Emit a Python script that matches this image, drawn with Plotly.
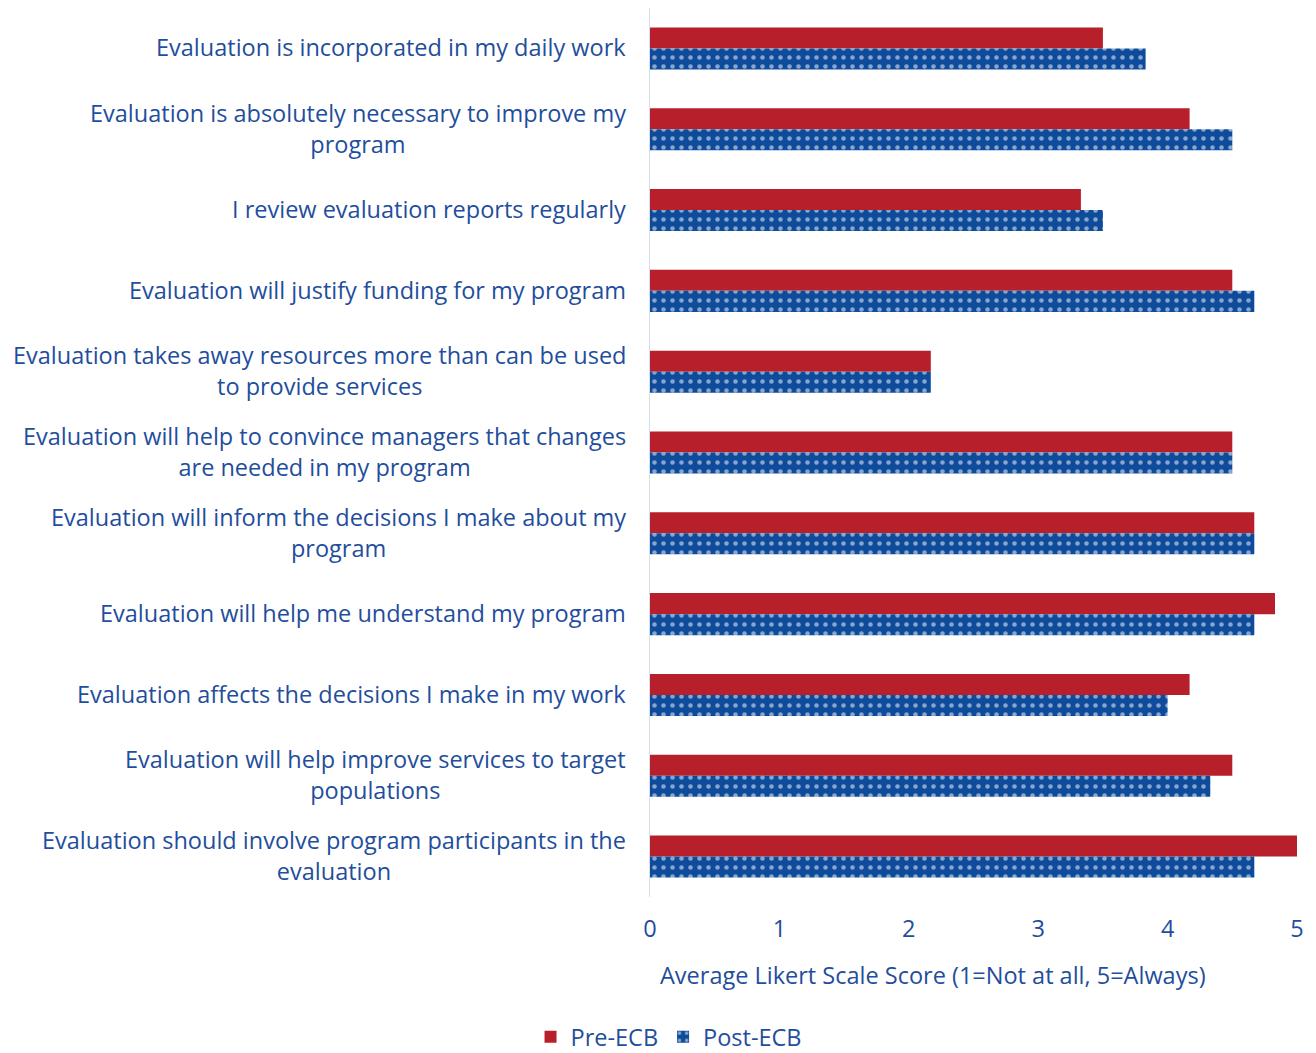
import plotly.graph_objects as go

# Survey statements (top to bottom) with line breaks for wrapping
statements = [
    "Evaluation is incorporated in my daily work",
    "Evaluation is absolutely necessary to improve my<br>program",
    "I review evaluation reports regularly",
    "Evaluation will justify funding for my program",
    "Evaluation takes away resources more than can be used<br>to provide services",
    "Evaluation will help to convince managers that changes<br>are needed in my program",
    "Evaluation will inform the decisions I make about my<br>program",
    "Evaluation will help me understand my program",
    "Evaluation affects the decisions I make in my work",
    "Evaluation will help improve services to target<br>populations",
    "Evaluation should involve program participants in the<br>evaluation",
]

pre_ecb = [3.50, 4.17, 3.33, 4.50, 2.17, 4.50, 4.67, 4.83, 4.17, 4.50, 5.00]
post_ecb = [3.83, 4.50, 3.50, 4.67, 2.17, 4.50, 4.67, 4.67, 4.00, 4.33, 4.67]

x_ticks = [0, 1, 2, 3, 4, 5]

RED = "#B71F2A"
BLUE = "#0F4B9B"
TEXT = "#1F4E9C"
FONT = "Open Sans"
FSIZE = 23.5

fig = go.Figure()
fig.add_trace(go.Bar(
    name="Pre-ECB", y=statements, x=pre_ecb, orientation="h",
    marker=dict(color=RED, line=dict(width=0)),
))
fig.add_trace(go.Bar(
    name="Post-ECB", y=statements, x=post_ecb, orientation="h",
    marker=dict(color=BLUE, line=dict(width=0),
                pattern=dict(shape=".", fgcolor="white", bgcolor=BLUE,
                             size=9, solidity=0.2, fillmode="overlay")),
))

# Category labels drawn as centered multi-line annotations
for s in statements:
    fig.add_annotation(
        x=0, xref="paper", xanchor="right", xshift=-22,
        y=s, yref="y", yanchor="middle", yshift=1,
        text=s, showarrow=False, align="center",
        font=dict(family=FONT, size=FSIZE, color=TEXT),
    )

# Value-axis title
fig.add_annotation(
    x=0.437, xref="paper", xanchor="center",
    y=0, yref="paper", yanchor="top", yshift=-60,
    text="Average Likert Scale Score (1=Not at all, 5=Always)",
    showarrow=False,
    font=dict(family=FONT, size=FSIZE, color=TEXT),
)

fig.update_layout(
    width=1316, height=1053,
    margin=dict(l=650, r=19, t=8, b=156, autoexpand=False),
    paper_bgcolor="white", plot_bgcolor="white",
    barmode="group", bargap=0.48, bargroupgap=0,
    font=dict(family=FONT, size=FSIZE, color=TEXT),
    legend=dict(orientation="h", xref="container", x=0.508, xanchor="center",
                yref="container", y=0.0152, yanchor="middle",
                font=dict(family=FONT, size=FSIZE, color=TEXT), traceorder="normal",
                itemwidth=30),
    showlegend=True,
)
fig.update_xaxes(
    range=[0, 5], tickvals=x_ticks, showgrid=False, zeroline=False,
    showline=False, ticks="", ticklabelstandoff=15,
    tickfont=dict(family=FONT, size=FSIZE, color=TEXT),
)
fig.update_yaxes(
    autorange="reversed", showticklabels=False, ticks="",
    showline=True, linecolor="#D5DEEA", linewidth=1, showgrid=False,
)

fig.write_html("out.html")
